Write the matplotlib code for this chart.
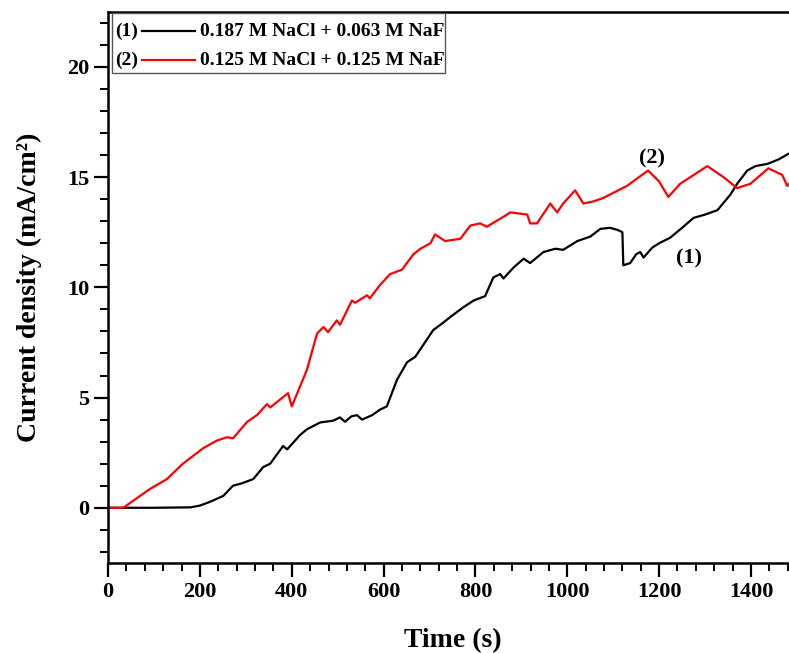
import numpy as np
import matplotlib
matplotlib.use('Agg')
import matplotlib.pyplot as plt
from matplotlib.lines import Line2D
from matplotlib.patches import Rectangle

# curve (1): 0.187 M NaCl + 0.063 M NaF
t1 = [0, 100, 180, 200, 222, 251, 272, 290, 303, 316, 338, 353, 381, 390, 418, 433, 462,
      490, 505, 516, 530, 542, 553, 575, 592, 607, 629, 651, 669, 690, 708, 730, 745, 774, 796, 821, 839, 854,
      861, 883, 905, 919, 948, 974, 991, 1022, 1050, 1072, 1093, 1110, 1120, 1122, 1137,
      1150, 1159, 1166, 1185, 1200, 1224, 1250, 1275, 1300, 1327, 1355, 1370, 1392,
      1410, 1436, 1460, 1481]
j1 = [0, 0, 0.02, 0.1, 0.27, 0.54, 1.0, 1.1, 1.2, 1.3, 1.85, 2.0, 2.8, 2.65, 3.3, 3.56, 3.87,
      3.95, 4.1, 3.9, 4.15, 4.2, 4.0, 4.2, 4.45, 4.6, 5.8, 6.6, 6.85, 7.5, 8.06, 8.4, 8.65, 9.1, 9.4, 9.6, 10.45, 10.6,
      10.4, 10.9, 11.3, 11.1, 11.6, 11.75, 11.7, 12.1, 12.3, 12.65, 12.7, 12.6, 12.5, 11.0, 11.1,
      11.5, 11.6, 11.35, 11.8, 12.0, 12.25, 12.7, 13.15, 13.3, 13.5, 14.2, 14.7, 15.3,
      15.5, 15.6, 15.8, 16.05]

# curve (2): 0.125 M NaCl + 0.125 M NaF
t2 = [0, 33, 91, 128, 163, 185, 207, 237, 259, 272, 303, 324, 346, 353, 368, 392, 400,
      418, 433, 455, 469, 479, 498, 505, 531, 538, 564, 570, 592, 614, 640, 665, 680,
      702, 712, 734, 767, 789, 810, 825, 861, 876, 913, 919, 934, 963, 978, 991, 1017,
      1035, 1057, 1078, 1130, 1176, 1200, 1220, 1246, 1305, 1340, 1370, 1399, 1438,
      1468, 1479, 1483]
j2 = [0, 0, 0.85, 1.3, 2.0, 2.35, 2.7, 3.05, 3.2, 3.15, 3.9, 4.2, 4.7, 4.55, 4.8, 5.2, 4.6,
      5.5, 6.26, 7.9, 8.2, 7.97, 8.5, 8.3, 9.4, 9.3, 9.64, 9.5, 10.1, 10.6, 10.8, 11.5, 11.75,
      12.0, 12.4, 12.1, 12.2, 12.8, 12.9, 12.75, 13.2, 13.4, 13.3, 12.9, 12.9, 13.8, 13.4, 13.8, 14.4,
      13.8, 13.9, 14.05, 14.6, 15.3, 14.8, 14.1, 14.7, 15.5, 15.0, 14.5, 14.7, 15.4,
      15.1, 14.6, 14.7]

labels = ['0.187 M NaCl + 0.063 M NaF', '0.125 M NaCl + 0.125 M NaF']
tags = ['(1)', '(2)']
colors = ['black', 'red']

plt.rcParams['font.family'] = ['Liberation Serif', 'DejaVu Serif']
plt.rcParams['font.weight'] = 'bold'

fig = plt.figure(figsize=(7.89, 6.53), dpi=100)
ax = fig.add_axes([0.137, 0.138, 0.873, 0.844])

ax.plot(t1, j1, color=colors[0], lw=1.6)
ax.plot(t2, j2, color=colors[1], lw=1.6)

ax.text(1264, 11.3, '(1)', fontsize=16, fontweight='bold', ha='center', va='center')
ax.text(1185, 15.85, '(2)', fontsize=16, fontweight='bold', ha='center', va='center')

ax.set_xlim(0, 1500)
ax.set_ylim(-2.5, 22.5)
ax.set_xticks([0, 200, 400, 600, 800, 1000, 1200, 1400])
ax.set_xticks(np.arange(0, 1500, 40), minor=True)
ax.set_yticks([0, 5, 10, 15, 20])
ax.set_yticks(np.arange(-2, 23, 1), minor=True)
ax.tick_params(which='major', length=10, width=1.6, labelsize=16)
ax.tick_params(which='minor', length=6, width=1.4)
for lab in ax.get_xticklabels() + ax.get_yticklabels():
    lab.set_fontweight('bold')
for s in ['left', 'bottom', 'top']:
    ax.spines[s].set_linewidth(1.8)
ax.spines['right'].set_visible(False)

ax.set_xlabel('Time (s)', fontsize=20, fontweight='bold', labelpad=19)
ax.set_ylabel('Current density (mA/cm²)', fontsize=20, fontweight='bold', labelpad=18)

# legend drawn by hand: tag, line sample, label
fig.add_artist(Rectangle((0.142, 0.888), 0.422, 0.092, transform=fig.transFigure,
                         fill=False, edgecolor='#555555', lw=1.0))
rows = [0.9525, 0.908]
for y, tag, col, lab in zip(rows, tags, colors, labels):
    fig.text(0.146, y, tag, fontsize=14, fontweight='bold', va='center')
    fig.add_artist(Line2D([0.180, 0.247], [y, y], transform=fig.transFigure, color=col, lw=1.6))
    fig.text(0.2535, y, lab, fontsize=14, fontweight='bold', va='center')

fig.savefig('out.png', dpi=100)
